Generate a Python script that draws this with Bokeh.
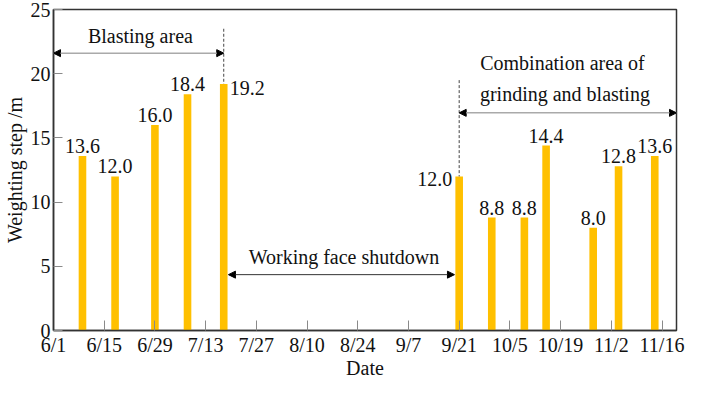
from datetime import date
from bokeh.plotting import figure
from bokeh.models import ColumnDataSource, Range1d, FixedTicker, Arrow, NormalHead, Label
from bokeh.embed import file_html
from bokeh.resources import INLINE

# ---- data ----
bar_dates = ["6/9", "6/18", "6/29", "7/8", "7/18", "9/21", "9/30", "10/9", "10/15", "10/28", "11/4", "11/14"]
steps = [13.6, 12.0, 16.0, 18.4, 19.2, 12.0, 8.8, 8.8, 14.4, 8.0, 12.8, 13.6]
tick_labels = ["6/1", "6/15", "6/29", "7/13", "7/27", "8/10", "8/24", "9/7", "9/21", "10/5", "10/19", "11/2", "11/16"]
y_ticks = [0, 5, 10, 15, 20, 25]


def day(s):
    m, d = map(int, s.split("/"))
    return (date(2021, m, d) - date(2021, 6, 1)).days


xs = [day(s) for s in bar_dates]
tick_pos = [day(s) for s in tick_labels]
labels = ["%.1f" % v for v in steps]

FONT = "'Liberation Serif', 'Times New Roman', serif"
FS = "20px"
XEND = 172

p = figure(width=690, height=381, x_range=Range1d(0, XEND), y_range=Range1d(0, 25),
           output_backend="svg", toolbar_location=None,
           min_border_left=46, min_border_right=14, min_border_top=9, min_border_bottom=20)
p.xgrid.visible = False
p.ygrid.visible = False
p.outline_line_color = "#333333"
p.outline_line_width = 1.5
p.background_fill_color = "white"

src = ColumnDataSource(dict(x=xs, top=steps, label=labels))
p.vbar(x="x", top="top", width=2.1, source=src, fill_color="#FFC000", line_color=None)

# value labels
above = [i for i in range(len(xs)) if i not in (4, 5)]
src_above = ColumnDataSource(dict(x=[xs[i] for i in above], y=[steps[i] for i in above],
                                  label=[labels[i] for i in above]))
p.text(x="x", y="y", text="label", source=src_above, text_align="center", text_baseline="bottom",
       y_offset=-3, text_font={"value": FONT}, text_font_size=FS, text_color="#111111")
src_r = ColumnDataSource(dict(x=[xs[4]], y=[steps[4]], label=[labels[4]]))
p.text(x="x", y="y", text="label", source=src_r, text_align="left", text_baseline="middle",
       x_offset=6, y_offset=4, text_font={"value": FONT}, text_font_size=FS, text_color="#111111")
src_l = ColumnDataSource(dict(x=[xs[5]], y=[steps[5]], label=[labels[5]]))
p.text(x="x", y="y", text="label", source=src_l, text_align="right", text_baseline="middle",
       x_offset=-7, y_offset=3, text_font={"value": FONT}, text_font_size=FS, text_color="#111111")

# dashed boundary lines
p.segment(x0=[xs[4], xs[5]], y0=[23.5, 19.5], x1=[xs[4], xs[5]], y1=[steps[4], steps[5]],
          line_color="#444444", line_width=1, line_dash="3 2")


def head():
    return NormalHead(size=7, fill_color="black", line_color="black", line_width=1)


p.add_layout(Arrow(start=head(), end=head(), x_start=0, y_start=21.6, x_end=xs[4], y_end=21.6,
                   line_color="#aaaaaa", line_width=1.5))
p.add_layout(Arrow(start=head(), end=head(), x_start=xs[5], y_start=16.95, x_end=XEND, y_end=16.95,
                   line_color="#aaaaaa", line_width=1.5))
p.add_layout(Arrow(start=head(), end=head(), x_start=xs[4] + 1.3, y_start=4.35, x_end=xs[5] - 1.3, y_end=4.35,
                   line_color="#333333", line_width=1))


def lab(x, y, t):
    p.add_layout(Label(x=x, y=y, text=t, text_align="center", text_baseline="middle",
                       text_font=FONT, text_font_size=FS, text_color="#111111"))


lab(24, 22.9, "Blasting area")
lab(140.5, 20.85, "Combination area of")
lab(141.2, 18.4, "grinding and blasting")
lab(80.2, 5.75, "Working face shutdown")

# axes
for ax in (p.xaxis, p.yaxis):
    ax.axis_line_color = "#333333"
    ax.axis_line_width = 1.5
    ax.major_tick_out = 0
    ax.minor_tick_in = 0
    ax.minor_tick_out = 0
    ax.major_tick_line_color = "#8a8a8a"
    ax.major_tick_line_width = 1
    ax.major_label_text_font = FONT
    ax.major_label_text_font_size = FS
    ax.major_label_text_color = "#111111"
    ax.axis_label_text_font = FONT
    ax.axis_label_text_font_size = FS
    ax.axis_label_text_font_style = "normal"
    ax.axis_label_text_color = "#111111"

p.xaxis.ticker = FixedTicker(ticks=tick_pos)
p.xaxis.major_label_overrides = {t: s for t, s in zip(tick_pos, tick_labels)}
p.xaxis.major_tick_in = 10
p.xaxis.major_label_standoff = 3
p.xaxis.major_label_text_line_height = 0.9
p.xaxis.axis_label = "Date"
p.xaxis.axis_label_standoff = -2
p.xaxis.axis_label_text_line_height = 0.9

p.yaxis.ticker = FixedTicker(ticks=y_ticks)
p.yaxis.major_tick_in = 9
p.yaxis.major_label_standoff = 3
p.yaxis.axis_label = "Weighting step /m"
p.yaxis.axis_label_standoff = 2

open("out.html", "w").write(file_html(p, INLINE))
